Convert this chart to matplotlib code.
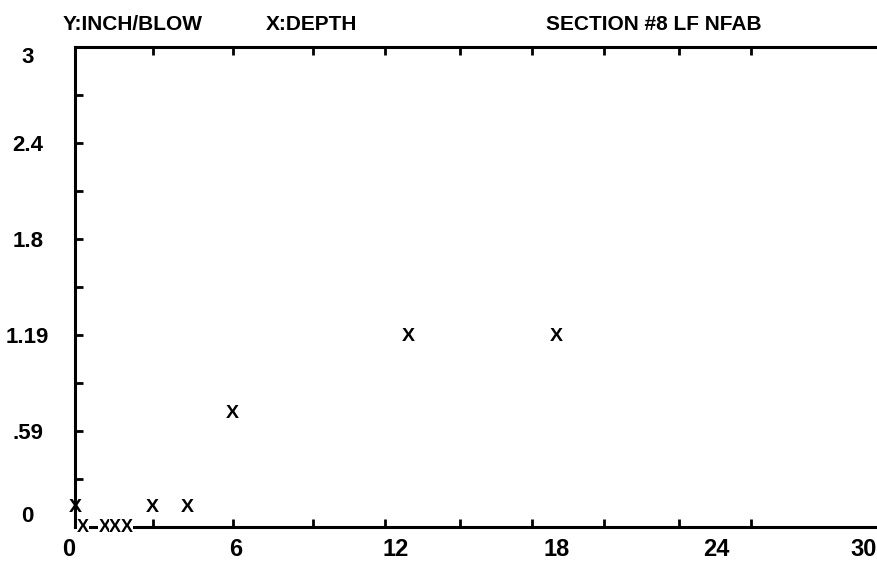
import matplotlib.pyplot as plt

# depth (x) vs inch/blow (y)
depth = [0.0, 0.3, 1.1, 1.5, 1.95, 2.9, 4.2, 5.9, 12.45, 18.0]
inch_per_blow = [0.12, 0.0, 0.0, 0.0, 0.0, 0.12, 0.12, 0.71, 1.19, 1.19]

x_labels = [0, 6, 12, 18, 24, 30]
x_minor = [2.9, 5.9, 8.9, 11.6, 14.4, 17.1, 19.8, 22.6, 25.3]
y_ticks = [0, 0.6, 1.2, 1.8, 2.4, 3]
y_labels = ["0", ".59", "1.19", "1.8", "2.4", "3"]
y_minor = [0.3, 0.9, 1.5, 2.1, 2.7]

plt.rcParams['font.family'] = ['Liberation Sans Narrow', 'Liberation Sans', 'DejaVu Sans']
plt.rcParams['font.weight'] = 'bold'

fig = plt.figure(figsize=(8.77, 5.69), dpi=100)
ax = fig.add_axes([75/877, 1 - 527/569, 1 - 75/877, 480/569])

ax.set_xlim(0, 30)
ax.set_ylim(0, 3)

for s in ['left', 'top', 'bottom']:
    ax.spines[s].set_linewidth(2.2)
ax.spines['right'].set_visible(False)

# labels only at the numbered positions, inward tick marks in between
ax.set_xticks(x_labels)
ax.set_xticklabels([str(v) for v in x_labels])
ax.set_xticks(x_minor, minor=True)
ax.set_yticks(y_ticks)
ax.set_yticklabels(y_labels)
ax.set_yticks(y_minor, minor=True)

ax.tick_params(axis='x', which='major', length=0, pad=8, labelsize=17)
ax.tick_params(axis='x', which='minor', direction='in', length=6, width=2,
               top=True, bottom=True)
ax.tick_params(axis='y', which='both', direction='in', length=6, width=2)
ax.tick_params(axis='y', which='major', pad=34, labelsize=16)
for lab in ax.get_yticklabels():
    lab.set_horizontalalignment('center')
ylabs = ax.get_yticklabels()
ylabs[0].set_verticalalignment('bottom')
ylabs[-1].set_verticalalignment('top')
xlabs = ax.get_xticklabels()
xlabs[0].set_horizontalalignment('right')
xlabs[-1].set_horizontalalignment('right')

for xv, yv in zip(depth, inch_per_blow):
    if yv == 0:
        ax.text(xv, yv, 'X', ha='center', va='center', fontsize=13,
                zorder=5, clip_on=False,
                bbox=dict(facecolor='white', edgecolor='none', pad=0))
    else:
        ax.text(xv, yv, 'X', ha='center', va='center', fontsize=14,
                zorder=5, clip_on=False)

fig.text(133/877, 1 - 24/569, 'Y:INCH/BLOW', ha='center', va='center', fontsize=15)
fig.text(312/877, 1 - 24/569, 'X:DEPTH', ha='center', va='center', fontsize=15)
fig.text(654/877, 1 - 24/569, 'SECTION #8 LF NFAB', ha='center', va='center', fontsize=15)

fig.savefig('out.png', dpi=100)
